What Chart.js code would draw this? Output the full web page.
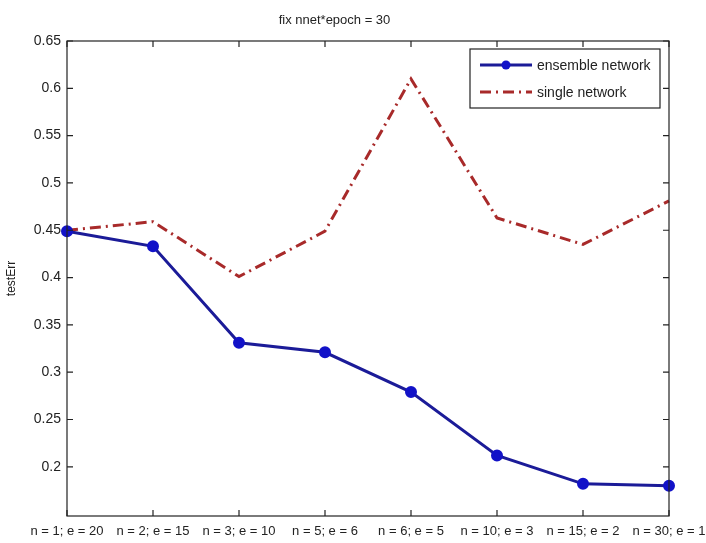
<!DOCTYPE html>
<html>
<head>
<meta charset="utf-8">
<script src="https://cdn.jsdelivr.net/npm/chart.js@4.4.1/dist/chart.umd.min.js"></script>
<style>
  html, body { margin: 0; padding: 0; background: #fff; }
  #wrap { width: 706px; height: 543px; }
</style>
</head>
<body>
<div id="wrap"><canvas id="myChart" width="706" height="543"></canvas></div>
<script>
// x categories (nnet / epoch combinations)
var categories = ['n = 1; e = 20', 'n = 2; e = 15', 'n = 3; e = 10', 'n = 5; e = 6',
                  'n = 6; e = 5', 'n = 10; e = 3', 'n = 15; e = 2', 'n = 30; e = 1'];
// test error
var ensembleErr = [0.449, 0.433, 0.331, 0.321, 0.279, 0.212, 0.182, 0.180];
var singleErr   = [0.450, 0.459, 0.401, 0.449, 0.610, 0.463, 0.435, 0.481];
var yTicks = [0.2, 0.25, 0.3, 0.35, 0.4, 0.45, 0.5, 0.55, 0.6, 0.65];

var fontFamily = '"Liberation Sans", Arial, Helvetica, sans-serif';
Chart.defaults.font.family = fontFamily;
Chart.defaults.font.size = 13;
Chart.defaults.color = '#222';

// matlab style box, inward ticks and legend box inside the axes
var matlabAxes = {
    id: 'matlabAxes',
    afterDatasetsDraw: function(chart) {
        var ctx = chart.ctx, a = chart.chartArea;
        var xs = chart.scales.x, ys = chart.scales.y;
        var tl = 6;
        ctx.save();
        ctx.strokeStyle = '#222';
        ctx.lineWidth = 1.2;
        ctx.strokeRect(a.left, a.top, a.right - a.left, a.bottom - a.top);
        ctx.beginPath();
        xs.ticks.forEach(function(t, i) {
            var px = xs.getPixelForTick(i);
            ctx.moveTo(px, a.bottom); ctx.lineTo(px, a.bottom - tl);
            ctx.moveTo(px, a.top); ctx.lineTo(px, a.top + tl);
        });
        ys.ticks.forEach(function(t, i) {
            var py = ys.getPixelForValue(t.value);
            ctx.moveTo(a.left, py); ctx.lineTo(a.left + tl, py);
            ctx.moveTo(a.right, py); ctx.lineTo(a.right - tl, py);
        });
        ctx.stroke();
        ctx.restore();
    },
    afterDraw: function(chart) {
        var ctx = chart.ctx;
        var bx = 470, by = 49, bw = 190, bh = 59;
        ctx.save();
        ctx.fillStyle = '#fff';
        ctx.fillRect(bx, by, bw, bh);
        ctx.strokeStyle = '#222';
        ctx.lineWidth = 1.2;
        ctx.strokeRect(bx, by, bw, bh);
        chart.data.datasets.forEach(function(ds, i) {
            var yy = by + 16 + i * 27;
            ctx.beginPath();
            ctx.setLineDash(ds.borderDash || []);
            ctx.strokeStyle = ds.borderColor;
            ctx.lineWidth = ds.borderWidth;
            ctx.moveTo(bx + 10, yy);
            ctx.lineTo(bx + 62, yy);
            ctx.stroke();
            ctx.setLineDash([]);
            if (ds.pointRadius > 0) {
                ctx.beginPath();
                ctx.fillStyle = ds.pointBackgroundColor;
                ctx.arc(bx + 36, yy, ds.pointRadius, 0, Math.PI * 2);
                ctx.fill();
            }
            ctx.fillStyle = '#222';
            ctx.font = '14px ' + fontFamily;
            ctx.textBaseline = 'middle';
            ctx.textAlign = 'left';
            ctx.fillText(ds.label, bx + 67, yy + 1);
        });
        ctx.restore();
    }
};

const data = {
    labels: categories,
    datasets: [{
        label: 'ensemble network',
        data: ensembleErr,
        borderColor: '#1b1b98',
        backgroundColor: '#1b1b98',
        pointBackgroundColor: '#1212c8',
        pointBorderColor: '#1212c8',
        pointRadius: 4.5,
        borderWidth: 3,
        tension: 0,
        clip: false
    }, {
        label: 'single network',
        data: singleErr,
        borderColor: '#a82a2a',
        backgroundColor: '#a82a2a',
        borderDash: [11, 5, 2, 5],
        pointRadius: 0,
        borderWidth: 3,
        tension: 0,
        clip: false
    }]
};

const config = {
    type: 'line',
    data: data,
    options: {
        responsive: false,
        animation: false,
        layout: { padding: { left: 0, right: 37, top: 0, bottom: 0 } },
        plugins: {
            legend: { display: false },
            tooltip: { enabled: false },
            title: {
                display: true,
                text: 'fix nnet*epoch = 30',
                color: '#222',
                font: { size: 13, weight: 'normal' },
                padding: { top: 13, bottom: 12.4 }
            }
        },
        scales: {
            x: {
                type: 'category',
                offset: false,
                grid: { display: false, drawTicks: false },
                border: { display: false },
                ticks: { padding: 8, maxRotation: 0, autoSkip: false, color: '#222' },
                afterFit: function(scale) {
                    scale.height = 27;
                    // let the layout padding decide the plot edges, not the label overflow
                    scale.paddingLeft = 0;
                    scale.paddingRight = 0;
                }
            },
            y: {
                min: 0.148,
                max: 0.65,
                grid: { display: false, drawTicks: false },
                border: { display: false },
                afterBuildTicks: function(scale) {
                    scale.ticks = yTicks.map(function(v) { return { value: v }; });
                },
                ticks: {
                    padding: 6,
                    color: '#222',
                    font: { size: 14 },
                    callback: function(v) { return String(+Number(v).toFixed(2)); }
                },
                title: {
                    display: true,
                    text: 'testErr',
                    color: '#222',
                    font: { size: 12 },
                    padding: { top: 4, bottom: 0 }
                },
                afterFit: function(scale) { scale.width = 67; }
            }
        }
    },
    plugins: [matlabAxes]
};

const myChart = new Chart(document.getElementById('myChart'), config);
</script>
</body>
</html>
